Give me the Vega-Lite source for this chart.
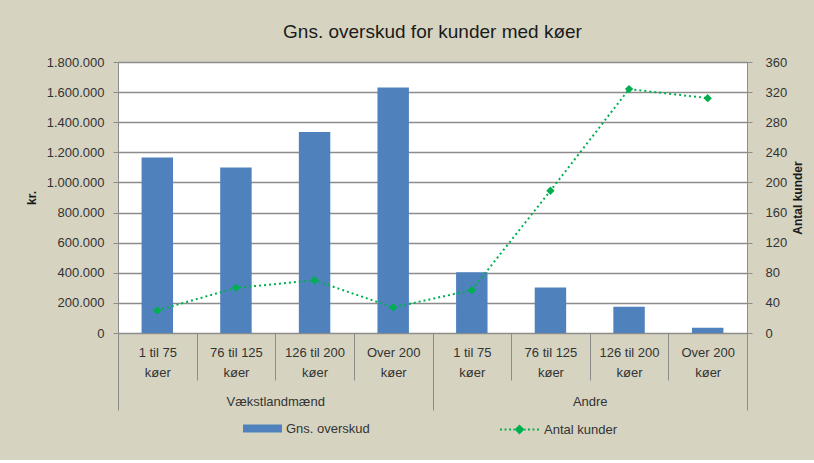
{
  "$schema": "https://vega.github.io/schema/vega-lite/v6.json",
  "width": 629,
  "height": 271,
  "background": "#d6d4c1",
  "padding": {"left": 25, "top": 23, "right": 11, "bottom": 22},
  "title": {"text": "Gns. overskud for kunder med køer", "fontSize": 19, "font": "Liberation Sans", "fontWeight": "normal", "color": "#1a1a1a", "offset": 14},
  "config": {
    "locale": {"number": {"decimal": ",", "thousands": ".", "grouping": [3], "currency": ["", " kr."]}},
    "font": "Liberation Sans",
    "view": {"fill": "white", "stroke": "#8c8c8c", "strokeWidth": 1},
    "axis": {"labelFont": "Liberation Sans", "labelFontSize": 13, "labelColor": "#333333", "titleFont": "Liberation Sans", "titleFontSize": 12, "titleFontWeight": "bold", "titleColor": "#1a1a1a", "domainColor": "#8c8c8c", "tickColor": "#8c8c8c", "labelOverlap": false},
    "legend": {"labelFont": "Liberation Sans", "labelFontSize": 13, "labelColor": "#333333"}
  },
  "data": {"values": [
    {"gruppe": "Vækstlandmænd", "kat": "1 til 75|køer|V", "overskud": 1165000, "kunder": 30},
    {"gruppe": "Vækstlandmænd", "kat": "76 til 125|køer|V", "overskud": 1100000, "kunder": 60},
    {"gruppe": "Vækstlandmænd", "kat": "126 til 200|køer|V", "overskud": 1335000, "kunder": 70},
    {"gruppe": "Vækstlandmænd", "kat": "Over 200|køer|V", "overskud": 1630000, "kunder": 34},
    {"gruppe": "Andre", "kat": "1 til 75|køer|A", "overskud": 403000, "kunder": 57},
    {"gruppe": "Andre", "kat": "76 til 125|køer|A", "overskud": 303000, "kunder": 189},
    {"gruppe": "Andre", "kat": "126 til 200|køer|A", "overskud": 175000, "kunder": 324},
    {"gruppe": "Andre", "kat": "Over 200|køer|A", "overskud": 35000, "kunder": 312}
  ]},
  "layer": [
    {
      "layer": [
        {
          "mark": {"type": "bar", "width": {"band": 0.4}},
          "encoding": {
            "x": {"field": "kat", "type": "nominal", "sort": null, "title": null,
              "scale": {"paddingInner": 0, "paddingOuter": 0},
              "axis": {"orient": "bottom", "labelAngle": 0, "tickBand": "extent", "tickSize": 47, "labelPadding": -34, "labelLineHeight": 20,
                "labelExpr": "[split(datum.label,'|')[0], split(datum.label,'|')[1]]"}},
            "y": {"field": "overskud", "type": "quantitative", "title": "kr.",
              "scale": {"domain": [0, 1800000], "nice": false},
              "axis": {"orient": "left", "values": [0, 200000, 400000, 600000, 800000, 1000000, 1200000, 1400000, 1600000, 1800000], "format": ",d", "tickSize": 5, "labelPadding": 9, "titlePadding": 8, "titleAngle": 270, "grid": true, "gridColor": "#8c8c8c", "gridWidth": 1.5}},
            "fill": {"datum": "Gns. overskud", "type": "nominal",
              "scale": {"domain": ["Gns. overskud"], "range": ["#4f81bd"]},
              "legend": {"title": null, "orient": "none", "legendX": 138, "legendY": 360, "symbolType": "M-3,-0.6H3V0.6H-3Z", "symbolSize": 169, "symbolStrokeWidth": 0, "labelOffset": 17}}
          }
        },
        {
          "layer": [
            {
              "mark": {"type": "line", "strokeDash": [2, 3], "strokeWidth": 2},
              "encoding": {
                "x": {"field": "kat", "type": "nominal", "sort": null},
                "y": {"field": "kunder", "type": "quantitative", "title": "Antal kunder",
                  "scale": {"domain": [0, 360], "nice": false},
                  "axis": {"orient": "right", "values": [0, 40, 80, 120, 160, 200, 240, 280, 320, 360], "tickCount": 10, "labelOverlap": false, "tickSize": 5, "labelPadding": 13, "titlePadding": 18, "titleAngle": 270, "grid": false}},
                "stroke": {"datum": "Antal kunder", "type": "nominal",
                  "scale": {"domain": ["Antal kunder"], "range": ["#00b050"]},
                  "legend": {"title": null, "orient": "none", "legendX": 394, "legendY": 360, "symbolType": "M-3,0H-2.7M-2.3,0H-2.0M-1.6,0H-1.3M-0.95,0H-0.75M0,-0.55L0.55,0L0,0.55L-0.55,0ZM0.75,0H0.95M1.3,0H1.6M2.0,0H2.3M2.7,0H3", "symbolSize": 169, "symbolStrokeWidth": 2, "symbolFillColor": "#00b050", "symbolStrokeColor": "#00b050", "labelOffset": 17}}
              }
            },
            {
              "mark": {"type": "point", "shape": "diamond", "filled": true, "size": 70, "opacity": 1, "color": "#00b050"},
              "encoding": {
                "x": {"field": "kat", "type": "nominal", "sort": null},
                "y": {"field": "kunder", "type": "quantitative", "title": "Antal kunder",
                  "scale": {"domain": [0, 360], "nice": false},
                  "axis": {"orient": "right", "values": [0, 40, 80, 120, 160, 200, 240, 280, 320, 360], "tickCount": 10, "labelOverlap": false, "tickSize": 5, "labelPadding": 13, "titlePadding": 18, "titleAngle": 270, "grid": false}}
              }
            }
          ]
        }
      ],
      "resolve": {"scale": {"y": "independent"}}
    },
    {
      "mark": {"type": "tick", "opacity": 0},
      "encoding": {
        "x": {"field": "gruppe", "type": "nominal", "sort": null, "title": null,
          "scale": {"domain": ["Vækstlandmænd", "Andre"], "paddingInner": 0, "paddingOuter": 0},
          "axis": {"orient": "bottom", "labelAngle": 0, "domain": false, "tickBand": "extent", "tickSize": 77, "labelPadding": -15}}
      }
    }
  ],
  "resolve": {"scale": {"x": "independent"}}
}
